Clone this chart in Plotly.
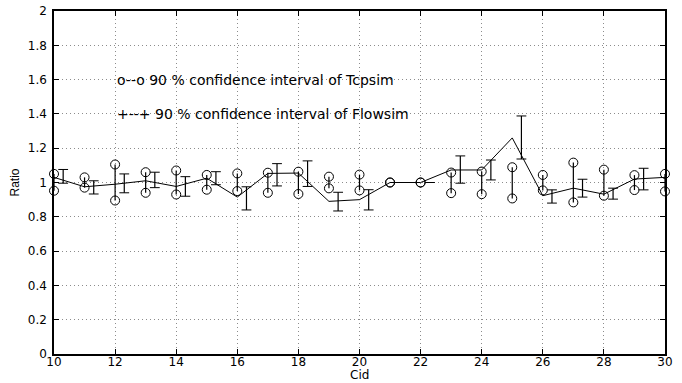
import plotly.graph_objects as go

cid = list(range(10, 31))
ratio_mean = [1.03, 0.975, 0.99, 1.01, 0.977, 1.025, 0.915, 1.053, 1.055, 0.89, 0.90,
              1.0, 1.0, 1.073, 1.073, 1.26, 0.923, 0.967, 0.932, 1.02, 1.03]
tcp_hi = [1.05, 1.03, 1.105, 1.06, 1.07, 1.044, 1.053, 1.057, 1.063, 1.034, 1.046,
          1.0, 1.0, 1.058, 1.064, 1.089, 1.044, 1.116, 1.075, 1.043, 1.05]
tcp_lo = [0.952, 0.97, 0.895, 0.94, 0.93, 0.958, 0.95, 0.94, 0.933, 0.966, 0.954,
          1.0, 1.0, 0.938, 0.932, 0.907, 0.954, 0.884, 0.923, 0.956, 0.948]
flow_hi = [1.076, 1.01, 1.05, 1.06, 1.034, 1.063, 0.975, 1.11, 1.126, 0.943, 0.958,
           1.0, 1.0, 1.155, 1.131, 1.388, 0.957, 1.019, 0.967, 1.083]
flow_lo = [0.996, 0.933, 0.94, 0.97, 0.92, 0.987, 0.84, 0.98, 0.977, 0.834, 0.84,
           1.0, 1.0, 0.996, 1.015, 1.137, 0.88, 0.915, 0.903, 0.957]
flow_offset = 0.3
legend_text = ["o--o 90 % confidence interval of Tcpsim",
               "+--+ 90 % confidence interval of Flowsim"]
legend_y = [1.6, 1.4]
x_ticks = list(range(10, 31, 2))
y_ticks = [0, 0.2, 0.4, 0.6, 0.8, 1, 1.2, 1.4, 1.6, 1.8, 2]

WIDE = "DejaVu Sans, Verdana, sans-serif"
NARROW = "Liberation Sans, Arial, Helvetica, sans-serif"

fig = go.Figure()

# Tcpsim intervals
tx, ty = [], []
for c, lo, hi in zip(cid, tcp_lo, tcp_hi):
    tx += [c, c, None]
    ty += [lo, hi, None]
fig.add_trace(go.Scatter(x=tx, y=ty, mode="lines+markers", cliponaxis=False,
                         line=dict(color="black", width=1.2),
                         marker=dict(symbol="circle-open", size=9, color="black",
                                     line=dict(width=1, color="black")),
                         showlegend=False, hoverinfo="skip"))

# Flowsim intervals
fx, fy = [], []
for c, lo, hi in zip(cid, flow_lo, flow_hi):
    fx += [c + flow_offset, c + flow_offset, None]
    fy += [lo, hi, None]
fig.add_trace(go.Scatter(x=fx, y=fy, mode="lines+markers", cliponaxis=False,
                         line=dict(color="black", width=1.2),
                         marker=dict(symbol="line-ew", size=7, color="black",
                                     line=dict(width=1, color="black")),
                         showlegend=False, hoverinfo="skip"))

# mean line
fig.add_trace(go.Scatter(x=cid, y=ratio_mean, mode="lines",
                         line=dict(color="black", width=1),
                         showlegend=False))

for t, yv in zip(legend_text, legend_y):
    fig.add_annotation(x=12, y=yv, text=t, showarrow=False, xanchor="left",
                       yanchor="middle", font=dict(family=WIDE, size=14, color="black"))

# x axis title
fig.add_annotation(x=20, xref="x", y=-0.0845, yref="paper", text="Cid", showarrow=False,
                   xanchor="center", yanchor="bottom", borderpad=0,
                   font=dict(family=WIDE, size=12, color="black"))

axis_common = dict(showline=True, linecolor="black", linewidth=1.5, mirror="ticks",
                   ticks="inside", ticklen=5, tickcolor="black", automargin=False,
                   showgrid=True, gridcolor="#8c8c8c", griddash="1px,3px", gridwidth=1,
                   zeroline=False, tickfont=dict(family=WIDE, size=12, color="black"))

fig.update_xaxes(range=[10, 30], tickvals=x_ticks, ticktext=[str(v) for v in x_ticks],
                 ticklabelstandoff=-4, **axis_common)
fig.update_yaxes(range=[0, 2], tickvals=y_ticks, ticktext=[f"{v:g}" for v in y_ticks],
                 ticklabelstandoff=3,
                 title=dict(text="Ratio", font=dict(family=NARROW, size=12, color="black"),
                            standoff=6),
                 **axis_common)

fig.update_layout(width=682, height=383, margin=dict(l=54, r=17, t=11, b=29),
                  plot_bgcolor="white", paper_bgcolor="white",
                  font=dict(family=WIDE, color="black"))

fig.write_html("out.html")
